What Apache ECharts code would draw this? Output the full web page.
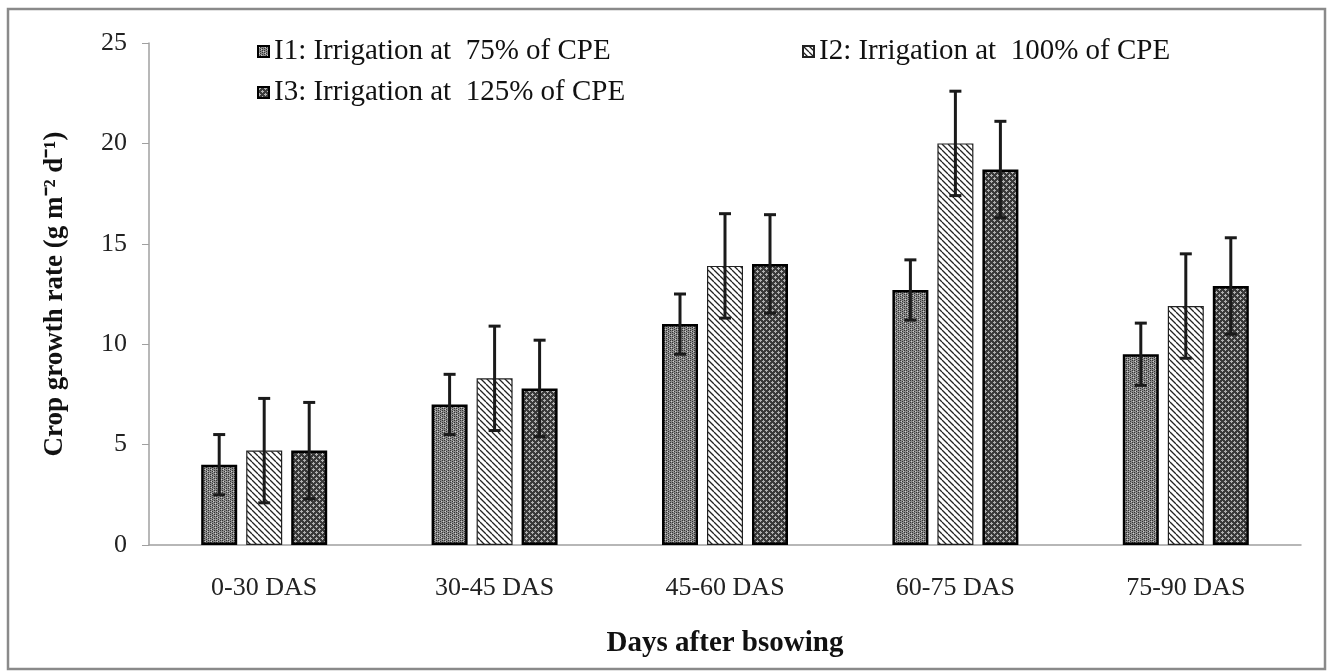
<!DOCTYPE html>
<html lang="en">
  <head>
    <meta charset="UTF-8" />
    <title>Crop growth rate</title>
    <script src="https://cdn.jsdelivr.net/npm/echarts@6/dist/echarts.min.js"></script>
    <style>
      html, body { margin: 0; padding: 0; background: #fff; }
      #main { width: 1328px; height: 672px; }
    </style>
  </head>
  <body>
    <div id="main"></div>
    <script>
      const categories = ["0-30 DAS", "30-45 DAS", "45-60 DAS", "60-75 DAS", "75-90 DAS"];
      const seriesNames = [
        "I1: Irrigation at  75% of CPE",
        "I2: Irrigation at  100% of CPE",
        "I3: Irrigation at  125% of CPE",
      ];
      const i1Values = [4.0, 7.0, 11.0, 12.7, 9.5];
      const i2Values = [4.7, 8.3, 13.9, 20.0, 11.9];
      const i3Values = [4.7, 7.8, 14.0, 18.7, 12.9];
      // error bar half-widths
      const i1Errors = [1.5, 1.5, 1.5, 1.5, 1.55];
      const i2Errors = [2.6, 2.6, 2.6, 2.6, 2.6];
      const i3Errors = [2.4, 2.4, 2.45, 2.4, 2.4];
      const yTicks = [0, 5, 10, 15, 20, 25];

      const font = "'Liberation Serif', 'Times New Roman', serif";

      // pattern fills
      function makePattern(kind) {
        const c = document.createElement("canvas");
        c.width = 6;
        c.height = 6;
        const ctx = c.getContext("2d");
        if (kind === "dots") {
          ctx.fillStyle = "#8c8c8c";
          ctx.fillRect(0, 0, 6, 6);
          ctx.fillStyle = "#333";
          for (let x = 0; x < 6; x += 2)
            for (let y = (x / 2) % 2; y < 6; y += 2) ctx.fillRect(x, y, 1, 1);
          ctx.fillStyle = "#ccc";
          ctx.fillRect(1, 1, 1, 1);
          ctx.fillRect(3, 3, 1, 1);
          ctx.fillRect(5, 5, 1, 1);
        } else if (kind === "hatch") {
          ctx.fillStyle = "#fff";
          ctx.fillRect(0, 0, 6, 6);
          ctx.strokeStyle = "#222";
          ctx.lineWidth = 1.3;
          ctx.beginPath();
          for (let k = -6; k <= 12; k += 6) {
            ctx.moveTo(k, 0);
            ctx.lineTo(k + 6, 6);
          }
          ctx.stroke();
        } else {
          ctx.fillStyle = "#3a3a3a";
          ctx.fillRect(0, 0, 6, 6);
          ctx.fillStyle = "#b0b0b0";
          ctx.fillRect(1, 0, 1, 3);
          ctx.fillRect(0, 1, 3, 1);
          ctx.fillRect(4, 3, 1, 3);
          ctx.fillRect(3, 4, 3, 1);
        }
        return { image: c, repeat: "repeat" };
      }

      const fills = [makePattern("dots"), makePattern("hatch"), makePattern("cross")];
      const values = [i1Values, i2Values, i3Values];
      const errors = [i1Errors, i2Errors, i3Errors];

      const chart = echarts.init(document.getElementById("main"));

      const barSeries = values.map((v, i) => ({
        name: seriesNames[i],
        type: "bar",
        data: v,
        barWidth: 36,
        barGap: "25%",
        itemStyle: {
          color: fills[i],
          borderColor: i === 1 ? "#222" : "#000",
          borderWidth: i === 1 ? 1.2 : 2.5,
        },
        z: 2,
      }));

      const errorSeries = values.map((v, i) => ({
        type: "custom",
        name: seriesNames[i] + " err",
        data: v.map((val, j) => [j, val - errors[i][j], val + errors[i][j]]),
        z: 5,
        silent: true,
        renderItem: function (params, api) {
          const idx = api.value(0);
          const low = api.coord([idx, api.value(1)]);
          const high = api.coord([idx, api.value(2)]);
          const offset = (i - 1) * (36 + 9);
          const x = low[0] + offset;
          const half = 6;
          const style = { stroke: "#1a1a1a", lineWidth: 3 };
          return {
            type: "group",
            children: [
              { type: "line", shape: { x1: x, y1: high[1], x2: x, y2: low[1] }, style },
              { type: "line", shape: { x1: x - half, y1: high[1], x2: x + half, y2: high[1] }, style },
              { type: "line", shape: { x1: x - half, y1: low[1], x2: x + half, y2: low[1] }, style },
            ],
          };
        },
      }));

      const legendBase = {
        icon: "rect",
        itemWidth: 11,
        itemHeight: 11,
        itemGap: 0,
        padding: 0,
        textStyle: { fontFamily: font, fontSize: 29, color: "#111" },
      };

      const option = {
        animation: false,
        textStyle: { fontFamily: font },
        graphic: [
          {
            type: "rect",
            shape: { x: 8, y: 9, width: 1317, height: 660 },
            style: { fill: "none", stroke: "#8a8a8a", lineWidth: 2.5 },
            silent: true,
          },
        ],
        legend: [
          Object.assign({}, legendBase, { data: [seriesNames[0]], left: 257, top: 37 }),
          Object.assign({}, legendBase, { data: [seriesNames[1]], left: 802, top: 37 }),
          Object.assign({}, legendBase, { data: [seriesNames[2]], left: 257, top: 78 }),
        ],
        grid: { left: 149, right: 27, top: 43, bottom: 127 },
        xAxis: {
          type: "category",
          data: categories,
          name: "Days after bsowing",
          nameLocation: "middle",
          nameGap: 84,
          nameTextStyle: { fontFamily: font, fontSize: 29, fontWeight: "bold", color: "#111" },
          axisLine: { lineStyle: { color: "#a0a0a0", width: 1.5 } },
          axisTick: { show: false },
          axisLabel: { fontFamily: font, fontSize: 26, color: "#222", margin: 30 },
        },
        yAxis: {
          type: "value",
          min: yTicks[0],
          max: yTicks[yTicks.length - 1],
          interval: 5,
          name: "Crop growth rate (g m\u207B\u00B2 d\u207B\u00B9)",
          nameLocation: "middle",
          nameGap: 80,
          nameTextStyle: { fontFamily: font, fontSize: 27, fontWeight: "bold", color: "#111" },
          axisLine: { show: true, lineStyle: { color: "#a0a0a0", width: 1.5 } },
          axisTick: { show: true, length: 7, lineStyle: { color: "#a0a0a0" } },
          axisLabel: { fontFamily: font, fontSize: 26, color: "#222", margin: 22 },
          splitLine: { show: false },
        },
        series: barSeries.concat(errorSeries),
      };

      chart.setOption(option);
    </script>
  </body>
</html>
